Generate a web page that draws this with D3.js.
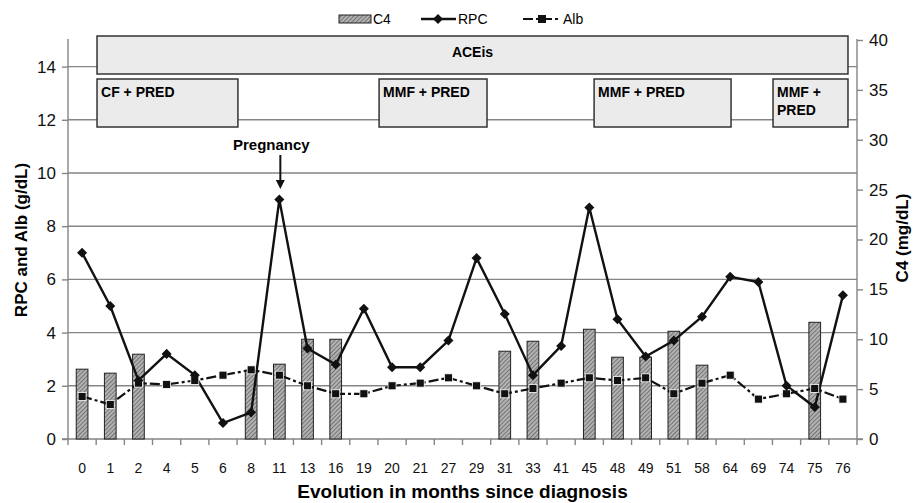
<!DOCTYPE html>
<html><head><meta charset="utf-8">
<script src="https://cdn.jsdelivr.net/npm/d3@7"></script>
<style>
body{margin:0;background:#fff;}
svg{display:block;font-family:"Liberation Sans",Arial,sans-serif;}
</style></head>
<body><svg id="chart" width="913" height="503"></svg>
<script>
const months = ["0","1","2","4","5","6","8","11","13","16","19","20","21","27","29","31","33","41","45","48","49","51","58","64","69","74","75","76"];
const rpc = [7.0,5.0,2.2,3.2,2.4,0.6,1.0,9.0,3.4,2.8,4.9,2.7,2.7,3.7,6.8,4.7,2.4,3.5,8.7,4.5,3.1,3.7,4.6,6.1,5.9,2.0,1.2,5.4];
const alb = [1.6,1.3,2.1,2.05,2.2,2.4,2.6,2.4,2.0,1.7,1.7,2.0,2.1,2.3,2.0,1.7,1.9,2.1,2.3,2.2,2.3,1.7,2.1,2.4,1.5,1.7,1.9,1.5];
const c4 = [7.0,6.6,8.5,null,null,null,6.9,7.5,10.0,10.0,null,null,null,null,null,8.8,9.8,null,11.0,8.2,8.2,10.8,7.4,null,null,null,11.7,null];
const leftTicks = [0,2,4,6,8,10,12,14];
const rightTicks = [0,5,10,15,20,25,30,35,40];
// treatment periods, in units of category positions
const treatLabels = ["CF + PRED","MMF + PRED","MMF + PRED","MMF +\nPRED"];
const treatFrom = [1.03,11.04,18.67,25.02];
const treatTo = [6.03,14.87,23.53,27.68];
const aceLabel = "ACEis", aceFrom = 1.03, aceTo = 27.68;
const pregnancyAt = "11";

const svg = d3.select("#chart");
const L=68, R=857, T=40, B=439;
const x = d3.scaleBand().domain(months).range([L,R]);
const yL = d3.scaleLinear().domain([0,15]).range([B,T]);
const yR = d3.scaleLinear().domain([0,40]).range([B,T]);
const bw = x.bandwidth();
const xc = d => x(d)+bw/2;
const xi = i => L + i*bw;

// hatch pattern
const defs = svg.append("defs");
const pat = defs.append("pattern").attr("id","hatch").attr("patternUnits","userSpaceOnUse")
  .attr("width",3).attr("height",3).attr("patternTransform","rotate(45)");
pat.append("rect").attr("width",3).attr("height",3).attr("fill","#b2b2b2");
pat.append("line").attr("x1",0).attr("y1",0).attr("x2",0).attr("y2",3).attr("stroke","#4a4a4a").attr("stroke-width",1.2);

// gridlines
svg.append("g").selectAll("line").data(leftTicks.filter(d=>d>0)).join("line")
  .attr("x1",L).attr("x2",R).attr("y1",d=>yL(d)).attr("y2",d=>yL(d))
  .attr("stroke","#858585").attr("stroke-width",1.4);

// axes
const axL = svg.append("g").attr("transform",`translate(${L},0)`)
  .call(d3.axisLeft(yL).tickValues(leftTicks).tickSize(6).tickPadding(6));
const axR = svg.append("g").attr("transform",`translate(${R},0)`)
  .call(d3.axisRight(yR).tickValues(rightTicks).tickSize(6).tickPadding(6));
[axL,axR].forEach(a=>{
  a.select(".domain").attr("stroke","#858585").attr("stroke-width",1.4).attr("d", a===axL?`M-6,${B}H0V${T-1}`:`M6,${B}H0V${T-1}`);
  a.selectAll(".tick line").attr("stroke","#858585").attr("stroke-width",1.4);
  a.selectAll(".tick text").attr("font-size",17).attr("fill","#111").attr("font-family","Liberation Sans,Arial,sans-serif");
});
const axB = svg.append("g").attr("transform",`translate(0,${B})`)
  .call(d3.axisBottom(x).tickSize(0).tickPadding(24));
axB.select(".domain").attr("stroke","#858585").attr("stroke-width",1.4).attr("d",`M${L},0H${R}`);
axB.selectAll(".tick text").attr("font-size",14).attr("fill","#111").attr("font-family","Liberation Sans,Arial,sans-serif");
svg.append("g").selectAll("line").data(d3.range(months.length+1)).join("line")
  .attr("x1",i=>xi(i)).attr("x2",i=>xi(i)).attr("y1",B).attr("y2",B+6)
  .attr("stroke","#858585").attr("stroke-width",1.4);

// bars
const barW = bw*0.415;
svg.append("g").selectAll("rect").data(months.map((m,i)=>({m,v:c4[i]})).filter(d=>d.v!=null)).join("rect")
  .attr("x",d=>xc(d.m)-barW/2).attr("width",barW)
  .attr("y",d=>yR(d.v)).attr("height",d=>B-yR(d.v))
  .attr("fill","url(#hatch)").attr("stroke","#222").attr("stroke-width",1);

// Alb line
const albData = months.map((m,i)=>({m,v:alb[i]}));
svg.append("path").datum(albData)
  .attr("d",d3.line().x(d=>xc(d.m)).y(d=>yL(d.v)))
  .attr("fill","none").attr("stroke","#111").attr("stroke-width",2.2).attr("stroke-dasharray","10,3,3,3");
// RPC line
const rpcData = months.map((m,i)=>({m,v:rpc[i]}));
svg.append("path").datum(rpcData)
  .attr("d",d3.line().x(d=>xc(d.m)).y(d=>yL(d.v)))
  .attr("fill","none").attr("stroke","#111").attr("stroke-width",2.4);
// markers
svg.append("g").selectAll("rect").data(albData).join("rect")
  .attr("x",d=>xc(d.m)-4).attr("y",d=>yL(d.v)-4).attr("width",8).attr("height",8)
  .attr("fill","#111").attr("stroke","#fff").attr("stroke-width",0.8);
const diamond = d3.symbol().type(d3.symbolDiamond2).size(64);
svg.append("g").selectAll("path").data(rpcData).join("path")
  .attr("transform",d=>`translate(${xc(d.m)},${yL(d.v)})`).attr("d",diamond).attr("fill","#111");

// treatment boxes
const boxFill="#ebebeb", boxStroke="#333";
svg.append("rect").attr("x",xi(aceFrom)).attr("width",xi(aceTo)-xi(aceFrom))
  .attr("y",T-4).attr("height",38).attr("fill",boxFill).attr("stroke",boxStroke).attr("stroke-width",1.5);
svg.append("text").attr("x",(xi(aceFrom)+xi(aceTo))/2).attr("y",T+17).attr("text-anchor","middle")
  .attr("font-size",14).attr("font-weight","bold").text(aceLabel);
treatLabels.forEach((lab,i)=>{
  svg.append("rect").attr("x",xi(treatFrom[i])).attr("width",xi(treatTo[i])-xi(treatFrom[i]))
    .attr("y",T+39).attr("height",48).attr("fill",boxFill).attr("stroke",boxStroke).attr("stroke-width",1.5);
  const t = svg.append("text").attr("x",xi(treatFrom[i])+4).attr("y",T+57)
    .attr("font-size",14).attr("font-weight","bold");
  lab.split("\n").forEach((ln,k)=>t.append("tspan").attr("x",xi(treatFrom[i])+4).attr("dy",k?18:0).text(ln));
});

// pregnancy annotation
const px = xc(pregnancyAt);
svg.append("text").attr("x",px-8).attr("y",150).attr("text-anchor","middle")
  .attr("font-size",15).attr("font-weight","bold").text("Pregnancy");
svg.append("line").attr("x1",px+1).attr("x2",px+1).attr("y1",155).attr("y2",182).attr("stroke","#111").attr("stroke-width",2);
svg.append("path").attr("d",`M${px-3.5},180L${px+5.5},180L${px+1},189Z`).attr("fill","#111");

// axis titles
svg.append("text").attr("transform",`translate(27,240) rotate(-90)`).attr("text-anchor","middle")
  .attr("font-size",17).attr("font-weight","bold").text("RPC and Alb (g/dL)");
svg.append("text").attr("transform",`translate(908,238) rotate(-90)`).attr("text-anchor","middle")
  .attr("font-size",17).attr("font-weight","bold").text("C4 (mg/dL)");
svg.append("text").attr("x",(L+R)/2).attr("y",498).attr("text-anchor","middle")
  .attr("font-size",19).attr("font-weight","bold").text("Evolution in months since diagnosis");

// legend
const lg = svg.append("g");
lg.append("rect").attr("x",339).attr("y",15).attr("width",32).attr("height",8).attr("fill","url(#hatch)").attr("stroke","#222");
lg.append("text").attr("x",373).attr("y",24).attr("font-size",14).text("C4");
lg.append("line").attr("x1",421).attr("x2",456).attr("y1",19).attr("y2",19).attr("stroke","#111").attr("stroke-width",2.4);
lg.append("path").attr("transform","translate(438,19)").attr("d",diamond).attr("fill","#111");
lg.append("text").attr("x",458).attr("y",24).attr("font-size",14).text("RPC");
lg.append("line").attr("x1",523).attr("x2",561).attr("y1",19).attr("y2",19).attr("stroke","#111").attr("stroke-width",2.2).attr("stroke-dasharray","10,3,3,3");
lg.append("rect").attr("x",538).attr("y",15).attr("width",8).attr("height",8).attr("fill","#111");
lg.append("text").attr("x",563).attr("y",24).attr("font-size",14).text("Alb");
</script></body></html>
